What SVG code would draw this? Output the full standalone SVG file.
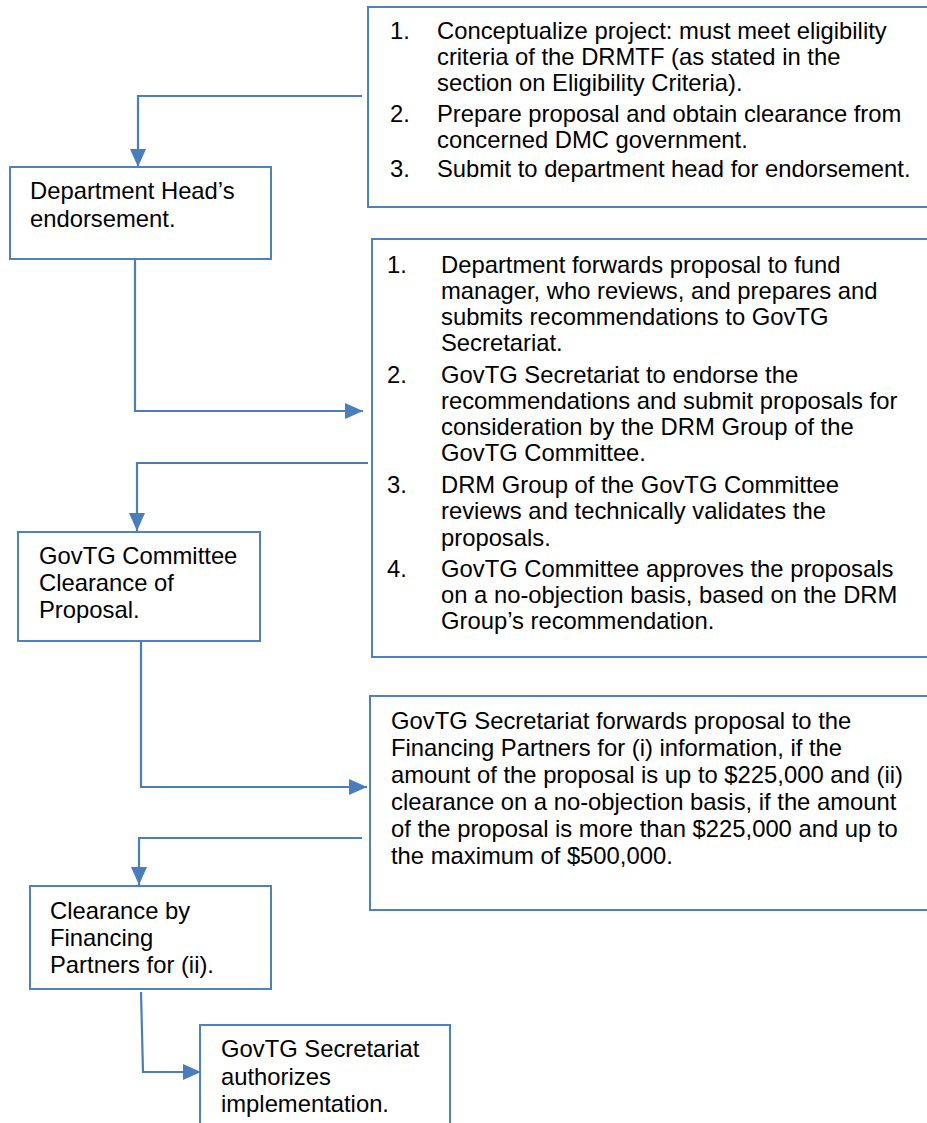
<svg xmlns="http://www.w3.org/2000/svg" width="927" height="1123" viewBox="0 0 927 1123">
<defs>
<style>
.box{fill:#fff;stroke:#4F81BD;stroke-width:2}
.t{font-family:"Liberation Sans",Arial,sans-serif;font-size:23.8px;fill:#000}
.c{fill:none;stroke:#4A7EBB;stroke-width:2.2}
</style>
<marker id="ah" markerUnits="userSpaceOnUse" markerWidth="18" markerHeight="16" viewBox="0 0 18 16" refX="18" refY="8" orient="auto">
<path d="M0,0 L18,8 L0,16 Z" fill="#4A7EBB"/>
</marker>
</defs>
<g id="connectors">
<path class="c" d="M362,96 H138 V167" marker-end="url(#ah)"/>
<path class="c" d="M135,259 V411 H363" marker-end="url(#ah)"/>
<path class="c" d="M368,463 H137 V531" marker-end="url(#ah)"/>
<path class="c" d="M141,641 V787 H367" marker-end="url(#ah)"/>
<path class="c" d="M362,838 H139 V885" marker-end="url(#ah)"/>
<path class="c" d="M141,992 L143,1072 H201" marker-end="url(#ah)"/>
</g>
<g id="step1">
<rect class="box" x="368" y="7" width="580" height="200"/>
<text class="t"><tspan x="390" y="39">1.</tspan><tspan x="437" y="39">Conceptualize project: must meet eligibility</tspan><tspan x="437" y="65">criteria of the DRMTF (as stated in the</tspan><tspan x="437" y="91">section on Eligibility Criteria).</tspan><tspan x="390" y="122">2.</tspan><tspan x="437" y="122">Prepare proposal and obtain clearance from</tspan><tspan x="437" y="148">concerned DMC government.</tspan><tspan x="390" y="177">3.</tspan><tspan x="437" y="177">Submit to department head for endorsement.</tspan></text>
</g>
<g id="dept-head">
<rect class="box" x="10" y="167" width="261" height="92"/>
<text class="t"><tspan x="30" y="199">Department Head’s</tspan><tspan x="30" y="227">endorsement.</tspan></text>
</g>
<g id="step2">
<rect class="box" x="372" y="239" width="580" height="418"/>
<text class="t"><tspan x="387" y="273">1.</tspan><tspan x="441" y="273">Department forwards proposal to fund</tspan><tspan x="441" y="299">manager, who reviews, and prepares and</tspan><tspan x="441" y="325">submits recommendations to GovTG</tspan><tspan x="441" y="351">Secretariat.</tspan><tspan x="387" y="383">2.</tspan><tspan x="441" y="383">GovTG Secretariat to endorse the</tspan><tspan x="441" y="409">recommendations and submit proposals for</tspan><tspan x="441" y="435">consideration by the DRM Group of the</tspan><tspan x="441" y="461">GovTG Committee.</tspan><tspan x="387" y="493">3.</tspan><tspan x="441" y="493">DRM Group of the GovTG Committee</tspan><tspan x="441" y="519">reviews and technically validates the</tspan><tspan x="441" y="546">proposals.</tspan><tspan x="387" y="577">4.</tspan><tspan x="441" y="577">GovTG Committee approves the proposals</tspan><tspan x="441" y="603">on a no-objection basis, based on the DRM</tspan><tspan x="441" y="629">Group’s recommendation.</tspan></text>
</g>
<g id="committee">
<rect class="box" x="18" y="532" width="242" height="109"/>
<text class="t"><tspan x="39" y="564">GovTG Committee</tspan><tspan x="39" y="591">Clearance of</tspan><tspan x="39" y="618">Proposal.</tspan></text>
</g>
<g id="step3">
<rect class="box" x="370" y="696" width="580" height="214"/>
<text class="t"><tspan x="391" y="729">GovTG Secretariat forwards proposal to the</tspan><tspan x="391" y="756">Financing Partners for (i) information, if the</tspan><tspan x="391" y="783">amount of the proposal is up to $225,000 and (ii)</tspan><tspan x="391" y="810">clearance on a no-objection basis, if the amount</tspan><tspan x="391" y="837">of the proposal is more than $225,000 and up to</tspan><tspan x="391" y="864">the maximum of $500,000.</tspan></text>
</g>
<g id="clearance">
<rect class="box" x="30" y="886" width="241" height="103"/>
<text class="t"><tspan x="50" y="919">Clearance by</tspan><tspan x="50" y="946">Financing</tspan><tspan x="50" y="973">Partners for (ii).</tspan></text>
</g>
<g id="authorize">
<rect class="box" x="200" y="1025" width="250" height="120"/>
<text class="t"><tspan x="221" y="1057">GovTG Secretariat</tspan><tspan x="221" y="1085">authorizes</tspan><tspan x="221" y="1112">implementation.</tspan></text>
</g>
</svg>
